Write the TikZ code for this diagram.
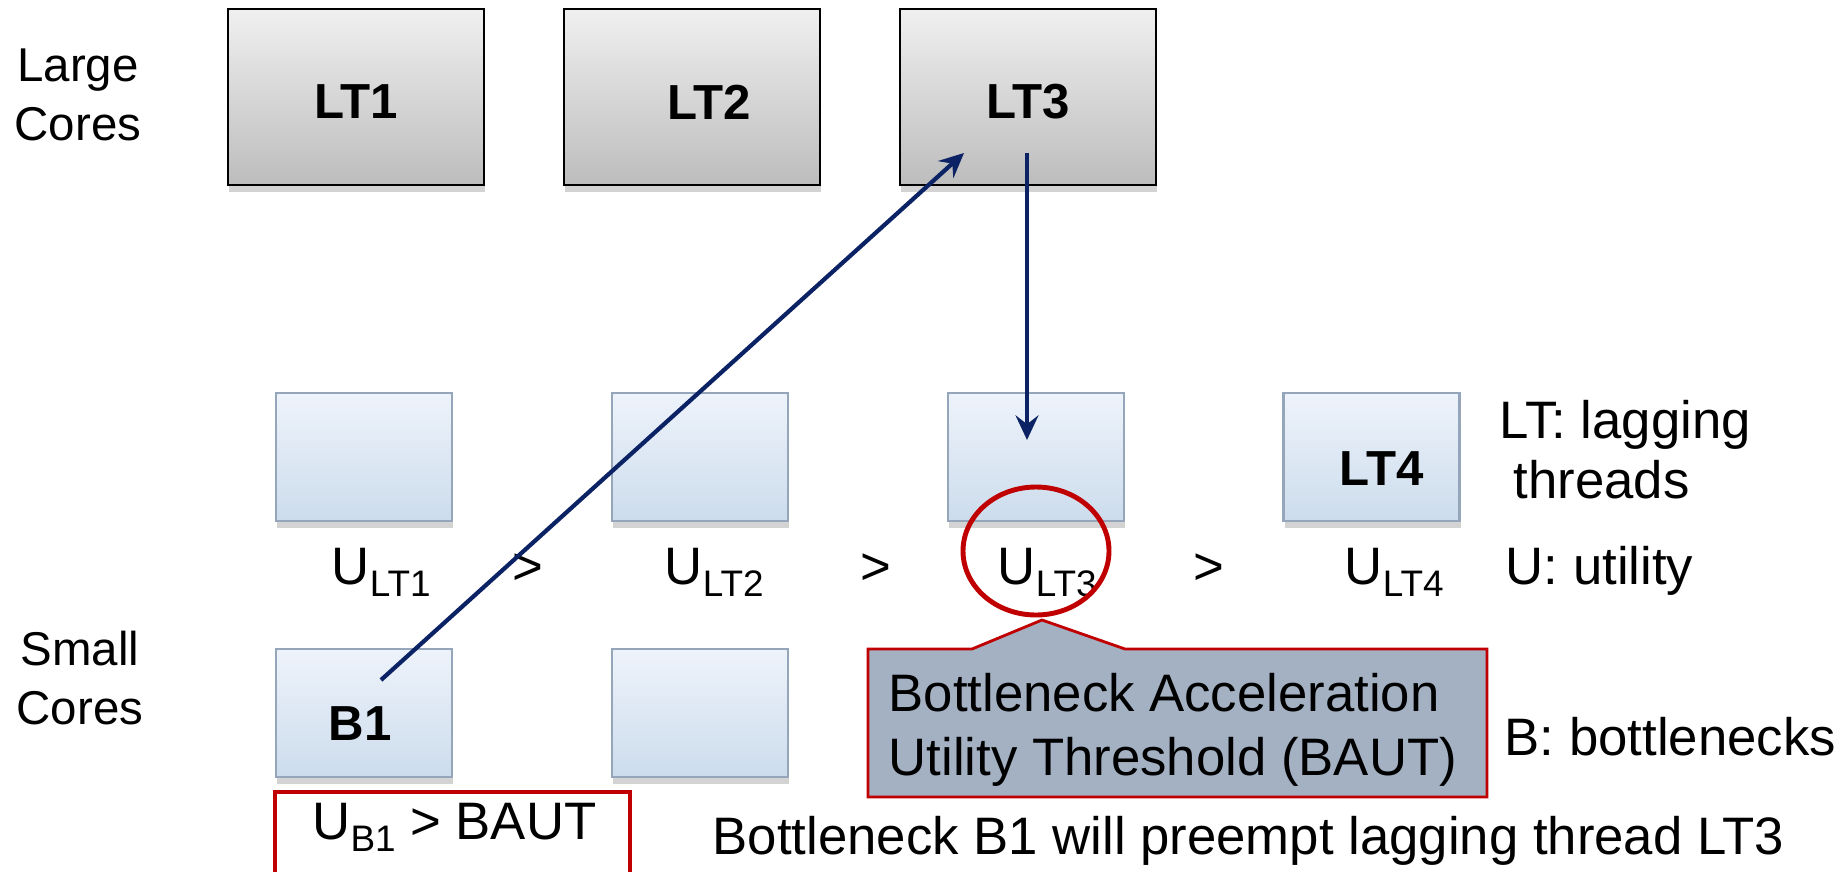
\documentclass[tikz,border=0pt]{standalone}
\usepackage{fontspec}
\setmainfont{Liberation Sans}
\usetikzlibrary{arrows.meta,shadows}
\definecolor{navyline}{HTML}{0B2265}
\definecolor{alertred}{HTML}{C00000}
\definecolor{smalledge}{HTML}{95A5BA}
\definecolor{smalltop}{HTML}{EEF3FB}
\definecolor{smallbot}{HTML}{CCDCEC}
\definecolor{calloutgray}{HTML}{A3B1C2}
\def\util#1{U\raisebox{-3.5pt}{\fontsize{10.5}{12}\selectfont #1}}
\tikzset{
  bigcore/.style={draw=black, line width=0.6pt, top color=black!6, bottom color=black!26,
    minimum width=2.56cm, minimum height=1.76cm, inner sep=0pt,
    drop shadow={shadow xshift=0.4pt, shadow yshift=-2pt, opacity=0.35}},
  smallcore/.style={draw=smalledge, line width=0.6pt, top color=smalltop, bottom color=smallbot,
    minimum width=1.76cm, minimum height=1.28cm, inner sep=0pt,
    drop shadow={shadow xshift=0.4pt, shadow yshift=-2pt, opacity=0.35}},
  coretxt/.style={font=\fontsize{14}{16}\selectfont\bfseries, inner sep=0pt},
  txt/.style={font=\fontsize{15}{18}\selectfont, inner sep=0pt},
  sidetxt/.style={font=\fontsize{13.5}{16.7}\selectfont, align=center, inner sep=0pt},
  migrate/.style={navyline, line width=1.2pt, -{Stealth[length=7pt,width=6.5pt,inset=2.5pt]}}
}
\begin{document}
\begin{tikzpicture}
		\useasboundingbox (0,0) rectangle (18.45,8.71);
		%%%%% START %%%%%
		
		\node[sidetxt] (largelbl) at (0.78,7.76) {Large\\Cores};
		\node[sidetxt] (smalllbl) at (0.80,1.93) {Small\\Cores};
		
		\node[bigcore, label={[coretxt, yshift=-0.05cm]center:LT1}] (lt1) at (3.56,7.74) {};
		\node[bigcore, label={[coretxt, xshift=0.17cm, yshift=-0.05cm]center:LT2}] (lt2) at (6.92,7.74) {};
		\node[bigcore, label={[coretxt, yshift=-0.05cm]center:LT3}] (lt3) at (10.28,7.74) {};
		
		\node[smallcore] (s1) at (3.64,4.14) {};
		\node[smallcore] (s2) at (7.00,4.14) {};
		\node[smallcore] (s3) at (10.36,4.14) {};
		\node[smallcore, label={[coretxt, xshift=0.10cm, yshift=-0.12cm]center:LT4}] (s4) at (13.715,4.14) {};
		\node[smallcore, label={[coretxt, xshift=-0.04cm, yshift=-0.11cm]center:B1}] (b1) at (3.64,1.58) {};
		\node[smallcore] (s6) at (7.00,1.58) {};
		
		\node[txt, anchor=base west] (u1) at (3.31,2.87) {\util{LT1}};
		\node[txt, anchor=base] (gt1) at (5.28,2.87) {>};
		\node[txt, anchor=base west] (u2) at (6.64,2.87) {\util{LT2}};
		\node[txt, anchor=base] (gt2) at (8.76,2.87) {>};
		\node[txt, anchor=base west] (u3) at (9.97,2.87) {\util{LT3}};
		\node[txt, anchor=base] (gt3) at (12.085,2.87) {>};
		\node[txt, anchor=base west] (u4) at (13.44,2.87) {\util{LT4}};
		
		\node[txt, anchor=west, align=left, font=\fontsize{15}{17}\selectfont] (ltkey) at (14.99,4.21) {LT: lagging\\\hspace*{4pt}threads};
		\node[txt, anchor=base west] (ukey) at (15.05,2.87) {U: utility};
		\node[txt, anchor=base west] (bkey) at (15.04,1.16) {B: bottlenecks};
		
		\draw[alertred, line width=1.4pt] (10.36,3.20) ellipse (0.73 and 0.64);
		\draw[fill=calloutgray, draw=alertred, line width=0.8pt] (8.68,2.22) -- (9.72,2.22) -- (10.42,2.51) -- (11.25,2.22) -- (14.87,2.22) -- (14.87,0.74) -- (8.68,0.74) -- cycle;
		\node[txt, anchor=west, align=left, font=\fontsize{15}{18.4}\selectfont] (baut) at (8.88,1.41) {Bottleneck Acceleration\\Utility Threshold (BAUT)};
		
		\draw[alertred, line width=1.4pt, fill=white] (2.75,0.79) rectangle (6.30,-0.3);
		\node[txt, anchor=base] (cond) at (4.545,0.32) {\util{B1} > BAUT};
		\node[txt, anchor=base west] (note) at (7.12,0.17) {Bottleneck B1 will preempt lagging thread LT3};
		
		\coordinate (b1from) at (3.81,1.91);
		\coordinate (lt3to) at (9.64,7.18);
		\coordinate (lt3from) at (10.27,7.18);
		\coordinate (s3to) at (10.27,4.31);
		\draw[migrate] (b1from) -- (lt3to);
		\draw[migrate] (lt3from) -- (s3to);
		
		%%%%% END %%%%%
	\end{tikzpicture}
\end{document}
